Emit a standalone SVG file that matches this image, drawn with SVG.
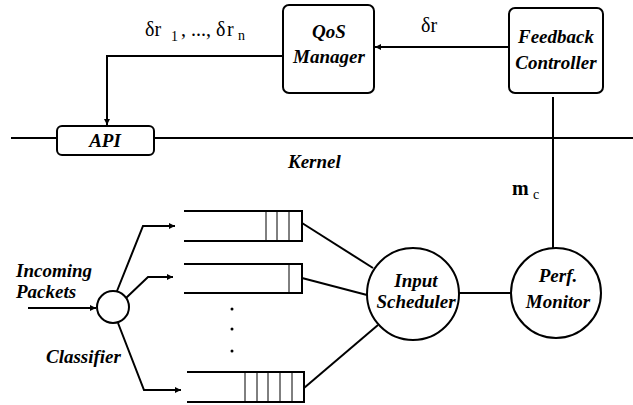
<svg xmlns="http://www.w3.org/2000/svg" width="633" height="405" viewBox="0 0 633 405">
  <style>
    .box { fill: #fff; stroke: #000; stroke-width: 2; }
    .ln { fill: none; stroke: #000; stroke-width: 2; }
    .thin { fill: none; stroke: #000; stroke-width: 1; }
    .lbl { font-family: "Liberation Serif", "DejaVu Serif", serif; font-size: 19px; font-weight: 700; font-style: italic; fill: #000; }
    .sym { font-family: "Liberation Serif", "DejaVu Serif", serif; font-size: 20px; fill: #000; }
    .sub { font-family: "Liberation Serif", "DejaVu Serif", serif; font-size: 14px; font-weight: 400; fill: #000; }
  </style>
  <defs>
    <marker id="arrow" viewBox="0 0 10 10" refX="10" refY="5" markerWidth="9" markerHeight="6" markerUnits="userSpaceOnUse" orient="auto">
      <path d="M0,0 L10,5 L0,10 z" fill="#000"/>
    </marker>
  </defs>

  <!-- user/kernel boundary -->
  <line id="kernel-line" class="ln" x1="11" y1="138" x2="633" y2="138"/>
  <text class="lbl" x="288" y="168">Kernel</text>

  <!-- connectors -->
  <g id="connectors">
    <line class="ln" x1="509" y1="47" x2="375" y2="47" marker-end="url(#arrow)"/>
    <polyline class="ln" points="283,56 107,56 107,125" marker-end="url(#arrow)"/>
    <line class="ln" x1="553" y1="97" x2="553" y2="248"/>
    <line class="ln" x1="459" y1="293" x2="511" y2="293"/>
    <line class="ln" x1="28" y1="308" x2="96" y2="308" marker-end="url(#arrow)"/>
    <polyline class="ln" points="117,291 143,226 175,226" marker-end="url(#arrow)"/>
    <polyline class="ln" points="126,298 148,277 173,277" marker-end="url(#arrow)"/>
    <polyline class="ln" points="118,323 144,390 181,390" marker-end="url(#arrow)"/>
    <line class="ln" x1="302" y1="223" x2="373" y2="268"/>
    <line class="ln" x1="302" y1="278" x2="367" y2="295"/>
    <line class="ln" x1="304" y1="388" x2="378" y2="325"/>
  </g>

  <!-- connector labels -->
  <g id="labels">
    <text class="sym" x="145" y="36">δr<tspan class="sub" x="171" y="41">1</tspan><tspan x="181" y="36">, ..., δ</tspan><tspan x="227" y="36">r</tspan><tspan class="sub" x="238" y="40">n</tspan></text>
    <text class="sym" x="421" y="32">δr</text>
    <text class="sym" x="512" y="195" font-size="21" font-weight="700">m<tspan class="sub" x="533" y="199">c</tspan></text>
  </g>

  <g id="api">
    <rect class="box" x="57" y="126" width="97" height="29" rx="5"/>
    <text class="lbl" x="105" y="147" text-anchor="middle">API</text>
  </g>

  <g id="qos-manager">
    <rect class="box" x="283" y="5" width="91" height="88" rx="6"/>
    <text class="lbl" x="329" y="38" text-anchor="middle">QoS</text>
    <text class="lbl" x="329" y="63" text-anchor="middle">Manager</text>
  </g>

  <g id="feedback-controller">
    <rect class="box" x="509" y="8" width="94" height="85" rx="6"/>
    <text class="lbl" x="556" y="43" text-anchor="middle">Feedback</text>
    <text class="lbl" x="556" y="69" text-anchor="middle">Controller</text>
  </g>

  <g id="input-scheduler">
    <circle class="box" cx="413" cy="294" r="46"/>
    <text class="lbl" x="416" y="287" text-anchor="middle">Input</text>
    <text class="lbl" x="416" y="308" text-anchor="middle">Scheduler</text>
  </g>

  <g id="perf-monitor">
    <circle class="box" cx="556" cy="293" r="45"/>
    <text class="lbl" x="558" y="282" text-anchor="middle">Perf.</text>
    <text class="lbl" x="558" y="308" text-anchor="middle">Monitor</text>
  </g>

  <g id="classifier">
    <circle class="box" cx="113" cy="307" r="16"/>
    <text class="lbl" x="46" y="363">Classifier</text>
  </g>

  <g id="incoming">
    <text class="lbl" x="16" y="277">Incoming</text>
    <text class="lbl" x="16" y="298">Packets</text>
  </g>

  <!-- packet queues: open at the tail, closed at the head -->
  <g id="queue-1">
    <polyline class="ln" points="184,211 302,211 302,241 184,241"/>
    <path class="thin" d="M266,211 V241 M277,211 V241 M289,211 V241"/>
  </g>
  <g id="queue-2">
    <polyline class="ln" points="184,264 302,264 302,293 184,293"/>
    <path class="thin" d="M289,264 V293"/>
  </g>
  <g id="queue-n">
    <polyline class="ln" points="187,372 304,372 304,402 187,402"/>
    <path class="thin" d="M245,372 V402 M257,372 V402 M268,372 V402 M280,372 V402 M292,372 V402"/>
  </g>
  <g id="ellipsis" fill="#000">
    <circle cx="232" cy="309" r="1.5"/>
    <circle cx="232" cy="329" r="1.5"/>
    <circle cx="232" cy="351" r="1.5"/>
  </g>
</svg>
